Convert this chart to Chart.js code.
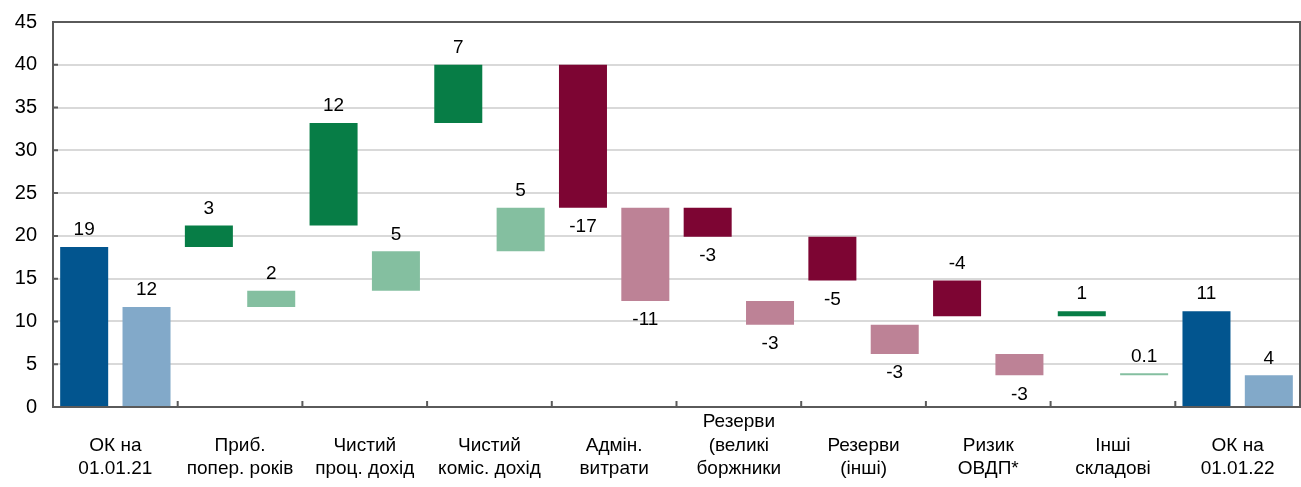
<!DOCTYPE html>
<html>
<head>
<meta charset="utf-8">
<script src="https://cdn.jsdelivr.net/npm/chart.js@4"></script>
<style>
  html, body { margin: 0; padding: 0; background: #fff; }
</style>
</head>
<body>
<canvas id="chartOK" width="1301" height="487"></canvas>
<script>
// категорії
const categories = [
  ['ОК на', '01.01.21'],
  ['Приб.', 'попер. років'],
  ['Чистий', 'проц. дохід'],
  ['Чистий', 'коміс. дохід'],
  ['Адмін.', 'витрати'],
  ['Резерви', '(великі', 'боржники'],
  ['Резерви', '(інші)'],
  ['Ризик', 'ОВДП*'],
  ['Інші', 'складові'],
  ['ОК на', '01.01.22']
];

// темні стовпці [від, до]
const darkBars = [[0, 18.7], [18.7, 21.2], [21.2, 33.2], [33.2, 40], [40, 23.3], [23.3, 19.9], [19.9, 14.8], [14.8, 10.6], [10.6, 11.2], [0, 11.2]];
// світлі стовпці [від, до]
const lightBars = [[0, 11.7], [11.7, 13.6], [13.6, 18.2], [18.2, 23.3], [23.3, 12.4], [12.4, 9.6], [9.6, 6.2], [6.2, 3.7], [3.7, 3.8], [0, 3.7]];

const darkLabels = ['19', '3', '12', '7', '-17', '-3', '-5', '-4', '1', '11'];
const lightLabels = ['12', '2', '5', '5', '-11', '-3', '-3', '-3', '0.1', '4'];
const darkLabelPos = ['top', 'top', 'top', 'top', 'bottom', 'bottom', 'bottom', 'top', 'top', 'top'];
const lightLabelPos = ['top', 'top', 'top', 'top', 'bottom', 'bottom', 'bottom', 'bottom', 'top', 'top'];

const yTicks = [0, 5, 10, 15, 20, 25, 30, 35, 40, 45];

const kind = ['total', 'up', 'up', 'up', 'down', 'down', 'down', 'down', 'up', 'total'];
const darkColors = { total: '#02558f', up: '#077d46', down: '#7d0533' };
const lightColors = { total: '#82a9c9', up: '#84bfa0', down: '#bd8296' };

const FONT = "'Liberation Sans', Arial, sans-serif";

// рамка та засічки
const frame = {
  id: 'frame',
  afterDatasetsDraw(chart) {
    const { ctx, chartArea: a, scales: { x, y } } = chart;
    ctx.save();
    ctx.strokeStyle = '#5a5a5a';
    ctx.lineWidth = 2;
    ctx.strokeRect(a.left, a.top, a.right - a.left, a.bottom - a.top);
    ctx.beginPath();
    for (let i = 1; i < categories.length; i++) {
      const px = (x.getPixelForValue(i - 1) + x.getPixelForValue(i)) / 2;
      ctx.moveTo(px, a.bottom);
      ctx.lineTo(px, a.bottom - 6);
    }
    yTicks.forEach(v => {
      const py = y.getPixelForValue(v);
      ctx.moveTo(a.left, py);
      ctx.lineTo(a.left + 5, py);
    });
    ctx.stroke();
    ctx.restore();
  }
};

// підписи значень
const valueLabels = {
  id: 'valueLabels',
  afterDatasetsDraw(chart) {
    const ctx = chart.ctx;
    ctx.save();
    ctx.font = '19px ' + FONT;
    ctx.fillStyle = '#000';
    ctx.textAlign = 'center';
    ctx.textBaseline = 'middle';
    const sets = [[darkLabels, darkLabelPos], [lightLabels, lightLabelPos]];
    chart.data.datasets.forEach((ds, di) => {
      const meta = chart.getDatasetMeta(di);
      meta.data.forEach((bar, i) => {
        const top = Math.min(bar.y, bar.base);
        const bottom = Math.max(bar.y, bar.base);
        const pos = sets[di][1][i];
        const ty = pos === 'top' ? top - 17 : bottom + 19;
        ctx.fillText(sets[di][0][i], bar.x, ty);
      });
    });
    ctx.restore();
  }
};

new Chart(document.getElementById('chartOK'), {
  type: 'bar',
  data: {
    labels: categories,
    datasets: [{
      data: darkBars,
      backgroundColor: kind.map(k => darkColors[k]),
      categoryPercentage: 1,
      barPercentage: 0.77,
      minBarLength: 2
    }, {
      data: lightBars,
      backgroundColor: kind.map(k => lightColors[k]),
      categoryPercentage: 1,
      barPercentage: 0.77,
      minBarLength: 2
    }]
  },
  options: {
    responsive: false,
    animation: false,
    layout: { padding: { top: 22, right: 1, left: 0, bottom: 0 } },
    plugins: {
      legend: { display: false },
      tooltip: { enabled: false }
    },
    scales: {
      x: {
        grid: { display: false, drawTicks: false },
        border: { display: false },
        afterFit(scale) { scale.height = 80; },
        ticks: {
          color: '#000',
          font: { family: FONT, size: 19, lineHeight: 1.24 },
          padding: 15,
          crossAlign: 'far',
          maxRotation: 0,
          autoSkip: false
        }
      },
      y: {
        min: 0,
        max: 45,
        grid: { color: '#d9d9d9', lineWidth: 2, drawTicks: false },
        border: { display: false },
        afterFit(scale) {
          scale.width = 53;
          scale.paddingTop = 0;
          scale.paddingBottom = 0;
        },
        ticks: {
          stepSize: 5,
          color: '#000',
          font: { family: FONT, size: 20 },
          padding: 16
        }
      }
    }
  },
  plugins: [frame, valueLabels]
});
</script>
</body>
</html>
